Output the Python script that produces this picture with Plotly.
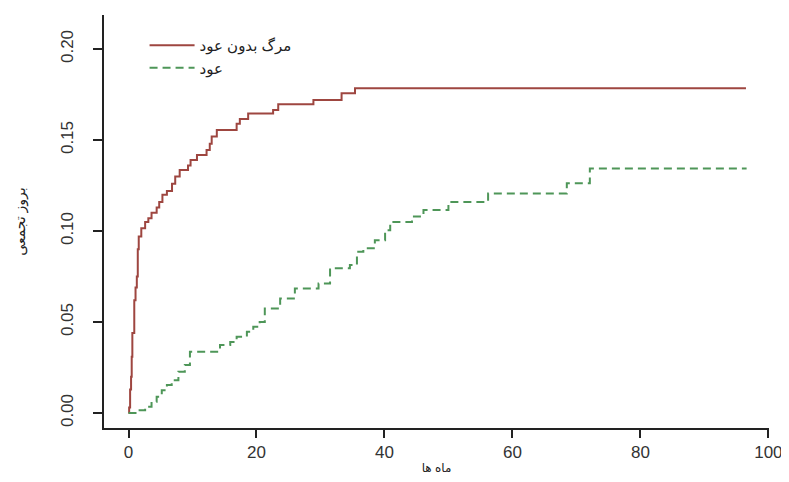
import plotly.graph_objects as go

# Death without relapse (مرگ بدون عود) – cumulative incidence step curve
death_t = [0, 0.1, 0.25, 0.4, 0.5, 0.6, 0.9, 1.1, 1.3, 1.45, 1.6, 2.0, 2.6, 3.1, 3.6, 4.4, 4.8,
           5.3, 6.0, 6.8, 7.3, 8.0, 9.3, 9.7, 10.7, 12.2, 12.7, 13.0, 13.8, 16.9, 17.4, 18.7,
           22.6, 23.4, 28.9, 33.3, 35.4, 96.5]
death_v = [0, 0.003, 0.013, 0.020, 0.031, 0.044, 0.062, 0.069, 0.075, 0.090, 0.097, 0.1015,
           0.105, 0.107, 0.110, 0.113, 0.116, 0.120, 0.122, 0.126, 0.130, 0.1335, 0.136, 0.139,
           0.1418, 0.1445, 0.148, 0.152, 0.1555, 0.159, 0.1615, 0.1646, 0.1665, 0.1696, 0.172,
           0.1757, 0.1784, 0.1784]

# Relapse (عود)
relapse_t = [0, 0.2, 1.5, 2.6, 3.6, 4.4, 5.2, 6.0, 6.75, 7.8, 8.8, 9.6, 14.3, 15.9, 16.9, 18.5,
             19.5, 20.5, 21.3, 23.7, 26.0, 29.7, 31.5, 34.6, 35.7, 36.7, 38.5, 40.1, 40.9, 44.3,
             46.1, 50.0, 56.2, 68.5, 72.1, 96.6]
relapse_v = [0, 0, 0.0016, 0.0035, 0.0062, 0.009, 0.0126, 0.0154, 0.018, 0.0227, 0.0264,
             0.0337, 0.0374, 0.039, 0.042, 0.0447, 0.0474, 0.050, 0.0575, 0.063, 0.0685, 0.0712,
             0.0795, 0.0813, 0.0886, 0.0905, 0.095, 0.1005, 0.105, 0.108, 0.1115, 0.116, 0.1207,
             0.1262, 0.1344, 0.1344]

names = ["مرگ بدون عود", "عود"]
x_ticks = [0, 20, 40, 60, 80, 100]
y_ticks = [0.00, 0.05, 0.10, 0.15, 0.20]
y_tick_text = ["0.00", "0.05", "0.10", "0.15", "0.20"]
x_title = "ماه ها"
y_title = "بروز تجمعی"

FONT = "Liberation Sans, Arial, DejaVu Sans, sans-serif"

fig = go.Figure()
fig.add_trace(go.Scatter(x=death_t, y=death_v, mode="lines", name=names[0],
                         line=dict(color="#9E4640", width=2, shape="hv")))
fig.add_trace(go.Scatter(x=relapse_t, y=relapse_v, mode="lines", name=names[1],
                         line=dict(color="#4E9658", width=2, shape="hv", dash="8px,5px")))

# the page body adds an 8px offset, so the figure is 8px smaller than the window
fig.update_layout(
    width=781, height=474,
    margin=dict(l=96, r=20, t=7, b=54),
    paper_bgcolor="white", plot_bgcolor="white",
    font=dict(family=FONT, color="#222222"),
    showlegend=True,
    legend=dict(x=0.061, y=0.966, xanchor="left", yanchor="top",
                bgcolor="rgba(0,0,0,0)", font=dict(size=15, color="#222222"),
                itemwidth=45, tracegroupgap=0),
    xaxis=dict(range=[-3.83, 100.1], tickvals=x_ticks, showgrid=False, zeroline=False,
               automargin=False,
               showline=True, linecolor="#222222", linewidth=1.5,
               ticks="outside", ticklen=8, tickwidth=1.5, tickcolor="#222222",
               tickfont=dict(size=17, color="#333333"),
               title=dict(text=x_title, font=dict(size=12), standoff=2)),
    yaxis=dict(range=[-0.0082, 0.2187], tickvals=y_ticks, ticktext=y_tick_text,
               showgrid=False, zeroline=False, automargin=False,
               showline=True, linecolor="#222222", linewidth=1.5,
               ticks="outside", ticklen=9, tickwidth=1.5, tickcolor="#222222",
               tickangle=-90, ticklabelstandoff=13,
               tickfont=dict(size=17, color="#333333"),
               title=dict(text=y_title, font=dict(size=14), standoff=30)),
)

fig.write_html("out.html")
